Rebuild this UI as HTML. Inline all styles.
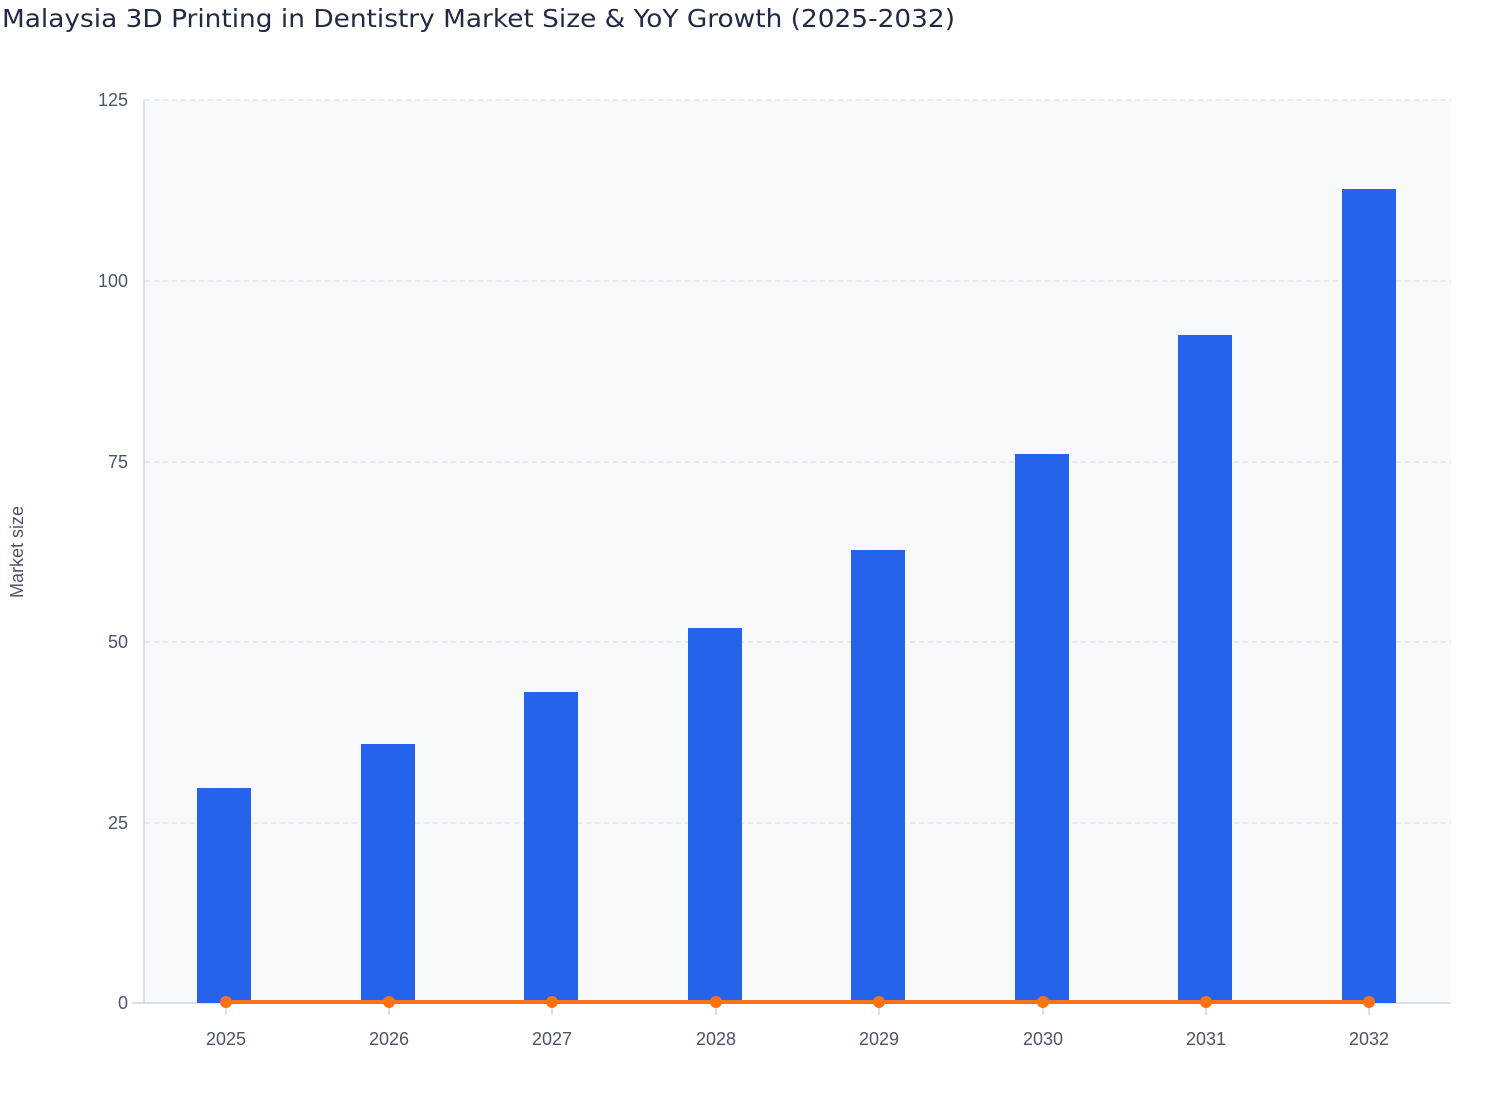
<!DOCTYPE html><html><head><style>body{margin:0;background:#fff}svg{display:block;font-family:"Liberation Sans","DejaVu Sans",sans-serif}</style></head><body>
<svg width="1508" height="1120" viewBox="0 0 1508 1120">
<text x="2" y="27" font-size="25" fill="#1f2a44" font-family="DejaVu Sans, sans-serif" textLength="953" lengthAdjust="spacingAndGlyphs">Malaysia 3D Printing in Dentistry Market Size &amp; YoY Growth (2025-2032)</text>
<rect x="145" y="100" width="1306" height="903" fill="#f8f9fb"/>
<g stroke="#e2e5ec" stroke-width="1.5" stroke-dasharray="5,4">
<line x1="145" x2="1451" y1="100" y2="100"/><line x1="145" x2="1451" y1="281" y2="281"/><line x1="145" x2="1451" y1="462" y2="462"/><line x1="145" x2="1451" y1="642" y2="642"/><line x1="145" x2="1451" y1="823" y2="823"/></g>
<g font-size="18" fill="#4a5568" text-anchor="end">
<text x="128" y="106">125</text><text x="128" y="287">100</text><text x="128" y="468">75</text><text x="128" y="648">50</text><text x="128" y="829">25</text><text x="128" y="1009">0</text></g>
<line x1="144" y1="100" x2="144" y2="1004" stroke="#cdd6ee" stroke-width="1.5"/>
<line x1="132" y1="1003" x2="1451" y2="1003" stroke="#cdd6ee" stroke-width="1.5"/>
<g stroke="#cdd6ee" stroke-width="1.5">
<line x1="226" x2="226" y1="1004" y2="1015"/><line x1="389" x2="389" y1="1004" y2="1015"/><line x1="552" x2="552" y1="1004" y2="1015"/><line x1="716" x2="716" y1="1004" y2="1015"/><line x1="879" x2="879" y1="1004" y2="1015"/><line x1="1043" x2="1043" y1="1004" y2="1015"/><line x1="1206" x2="1206" y1="1004" y2="1015"/><line x1="1369" x2="1369" y1="1004" y2="1015"/></g>
<text transform="translate(23,552) rotate(-90)" font-size="18" fill="#4a5568" text-anchor="middle">Market size</text>
<g fill="#2563eb">
<rect x="197" y="788" width="54" height="215"/><rect x="361" y="744" width="54" height="259"/><rect x="524" y="692" width="54" height="311"/><rect x="688" y="628" width="54" height="375"/><rect x="851" y="550" width="54" height="453"/><rect x="1015" y="454" width="54" height="549"/><rect x="1178" y="335" width="54" height="668"/><rect x="1342" y="189" width="54" height="814"/></g>
<line x1="226" y1="1002" x2="1369" y2="1002" stroke="#f97316" stroke-width="4"/>
<g fill="#f97316">
<circle cx="226" cy="1002" r="6"/><circle cx="389" cy="1002" r="6"/><circle cx="552" cy="1002" r="6"/><circle cx="716" cy="1002" r="6"/><circle cx="879" cy="1002" r="6"/><circle cx="1043" cy="1002" r="6"/><circle cx="1206" cy="1002" r="6"/><circle cx="1369" cy="1002" r="6"/></g>
<g font-size="18" fill="#4a5568" text-anchor="middle">
<text x="226" y="1045">2025</text><text x="389" y="1045">2026</text><text x="552" y="1045">2027</text><text x="716" y="1045">2028</text><text x="879" y="1045">2029</text><text x="1043" y="1045">2030</text><text x="1206" y="1045">2031</text><text x="1369" y="1045">2032</text></g>
</svg></body></html>
